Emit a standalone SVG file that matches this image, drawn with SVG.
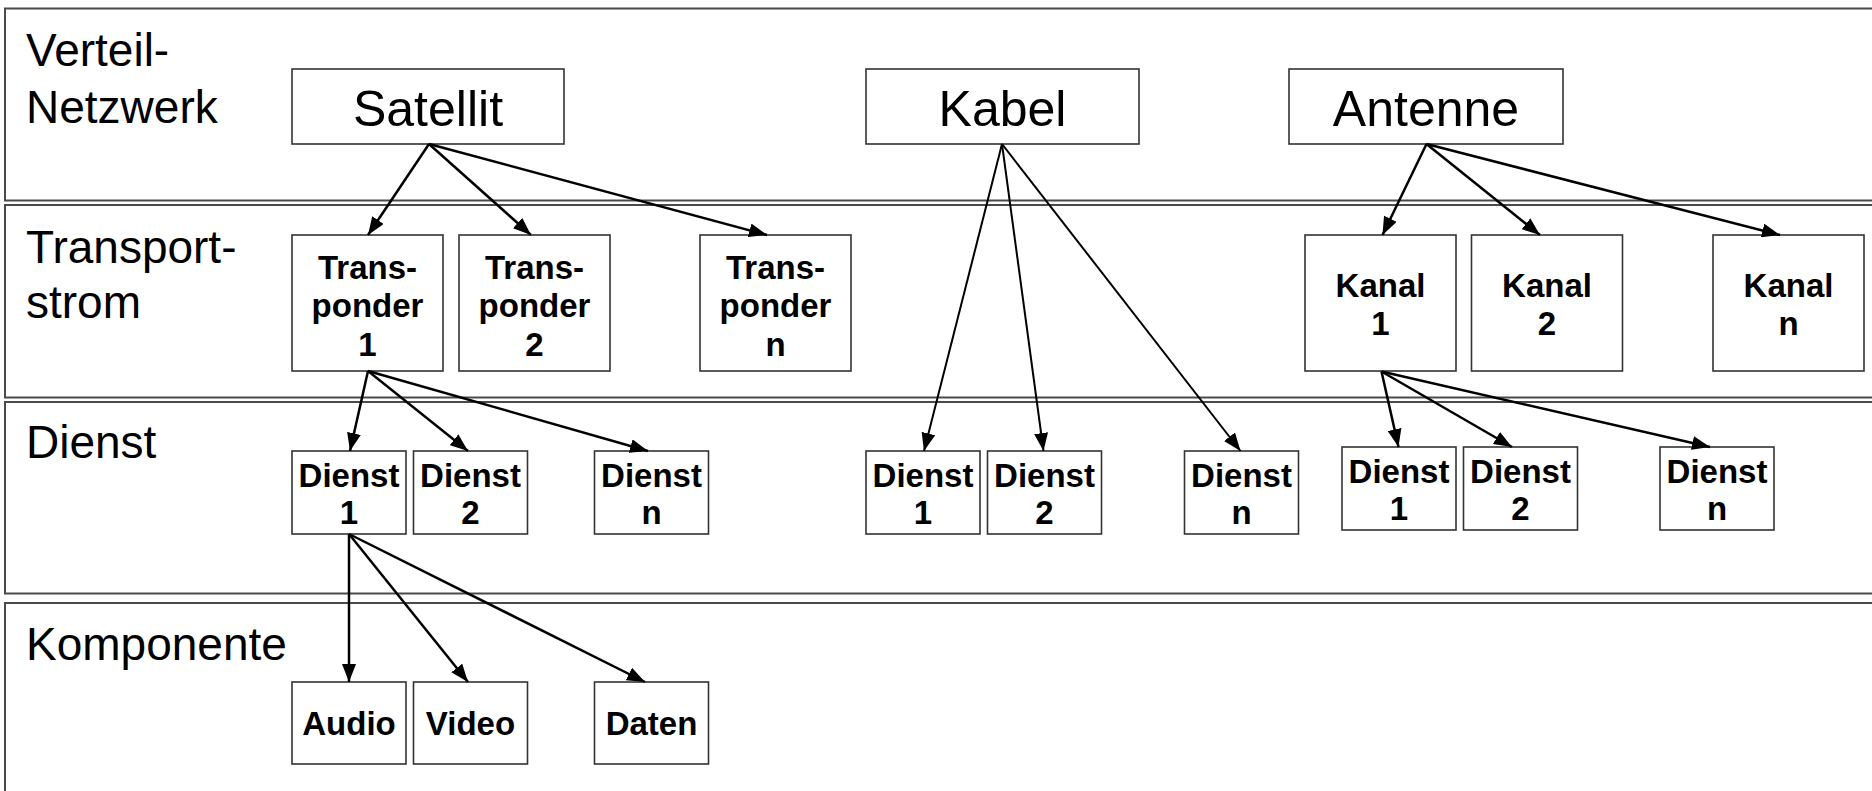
<svg xmlns="http://www.w3.org/2000/svg" width="1872" height="791" viewBox="0 0 1872 791">
  <style>
    .band { fill: #ffffff; stroke: #4a4a4a; stroke-width: 2; }
    .box { fill: #ffffff; stroke: #333333; stroke-width: 1.6; }
    .lbl { font-family: "Liberation Sans", Arial, sans-serif; font-size: 46px; fill: #000; }
    .big { font-family: "Liberation Sans", Arial, sans-serif; font-size: 50px; fill: #000; text-anchor: middle; }
    .sm { font-family: "Liberation Sans", Arial, sans-serif; font-size: 33px; font-weight: bold; fill: #000; text-anchor: middle; }
    .edge { stroke: #000; stroke-width: 2.5; fill: none; marker-end: url(#arrow); }
    .thin { stroke-width: 2; }
  </style>
  <defs>
    <marker id="arrow" markerUnits="userSpaceOnUse" markerWidth="18" markerHeight="14" refX="18" refY="7" orient="auto">
      <path d="M0,0 L18,7 L0,14 z" fill="#000"/>
    </marker>
  </defs>
  <rect width="1872" height="791" fill="#ffffff"/>

  <!-- layer bands -->
  <g id="bands">
    <rect class="band" x="5" y="8.5" width="1880" height="192"/>
    <rect class="band" x="5" y="205" width="1880" height="192.5"/>
    <rect class="band" x="5" y="402" width="1880" height="191.5"/>
    <rect class="band" x="5" y="603" width="1880" height="200"/>
    <text class="lbl" x="26" y="66">Verteil-</text>
    <text class="lbl" x="26" y="123">Netzwerk</text>
    <text class="lbl" x="26" y="263">Transport-</text>
    <text class="lbl" x="26" y="318">strom</text>
    <text class="lbl" x="26" y="458">Dienst</text>
    <text class="lbl" x="26" y="660">Komponente</text>
  </g>

  <!-- distribution networks -->
  <g id="satellit">
    <rect class="box" x="292" y="69" width="272" height="75"/>
    <text class="big" x="428" y="126">Satellit</text>
  </g>
  <g id="kabel">
    <rect class="box" x="866" y="69" width="273" height="75"/>
    <text class="big" x="1002.5" y="126">Kabel</text>
  </g>
  <g id="antenne">
    <rect class="box" x="1289" y="69" width="274" height="75"/>
    <text class="big" x="1426" y="126">Antenne</text>
  </g>

  <!-- transport streams -->
  <g id="transponder-1">
    <rect class="box" x="292" y="235" width="151" height="136"/>
    <text class="sm" x="367.5" y="278.5">Trans-</text>
    <text class="sm" x="367.5" y="317">ponder</text>
    <text class="sm" x="367.5" y="355.5">1</text>
  </g>
  <g id="transponder-2">
    <rect class="box" x="459" y="235" width="151" height="136"/>
    <text class="sm" x="534.5" y="278.5">Trans-</text>
    <text class="sm" x="534.5" y="317">ponder</text>
    <text class="sm" x="534.5" y="355.5">2</text>
  </g>
  <g id="transponder-n">
    <rect class="box" x="700" y="235" width="151" height="136"/>
    <text class="sm" x="775.5" y="278.5">Trans-</text>
    <text class="sm" x="775.5" y="317">ponder</text>
    <text class="sm" x="775.5" y="355.5">n</text>
  </g>
  <g id="kanal-1">
    <rect class="box" x="1305" y="235" width="151" height="136"/>
    <text class="sm" x="1380.5" y="297">Kanal</text>
    <text class="sm" x="1380.5" y="335">1</text>
  </g>
  <g id="kanal-2">
    <rect class="box" x="1471.5" y="235" width="151" height="136"/>
    <text class="sm" x="1547" y="297">Kanal</text>
    <text class="sm" x="1547" y="335">2</text>
  </g>
  <g id="kanal-n">
    <rect class="box" x="1713" y="235" width="151" height="136"/>
    <text class="sm" x="1788.5" y="297">Kanal</text>
    <text class="sm" x="1788.5" y="335">n</text>
  </g>

  <!-- services -->
  <g id="sat-dienst-1">
    <rect class="box" x="292" y="451" width="114" height="83"/>
    <text class="sm" x="349" y="486.5">Dienst</text>
    <text class="sm" x="349" y="524">1</text>
  </g>
  <g id="sat-dienst-2">
    <rect class="box" x="413.5" y="451" width="114" height="83"/>
    <text class="sm" x="470.5" y="486.5">Dienst</text>
    <text class="sm" x="470.5" y="524">2</text>
  </g>
  <g id="sat-dienst-n">
    <rect class="box" x="594.5" y="451" width="114" height="83"/>
    <text class="sm" x="651.5" y="486.5">Dienst</text>
    <text class="sm" x="651.5" y="524">n</text>
  </g>
  <g id="kabel-dienst-1">
    <rect class="box" x="866" y="451" width="114" height="83"/>
    <text class="sm" x="923" y="486.5">Dienst</text>
    <text class="sm" x="923" y="524">1</text>
  </g>
  <g id="kabel-dienst-2">
    <rect class="box" x="987.5" y="451" width="114" height="83"/>
    <text class="sm" x="1044.5" y="486.5">Dienst</text>
    <text class="sm" x="1044.5" y="524">2</text>
  </g>
  <g id="kabel-dienst-n">
    <rect class="box" x="1184.5" y="451" width="114" height="83"/>
    <text class="sm" x="1241.5" y="486.5">Dienst</text>
    <text class="sm" x="1241.5" y="524">n</text>
  </g>
  <g id="kanal-dienst-1">
    <rect class="box" x="1342" y="447" width="114" height="83"/>
    <text class="sm" x="1399" y="482.5">Dienst</text>
    <text class="sm" x="1399" y="520">1</text>
  </g>
  <g id="kanal-dienst-2">
    <rect class="box" x="1463.5" y="447" width="114" height="83"/>
    <text class="sm" x="1520.5" y="482.5">Dienst</text>
    <text class="sm" x="1520.5" y="520">2</text>
  </g>
  <g id="kanal-dienst-n">
    <rect class="box" x="1660" y="447" width="114" height="83"/>
    <text class="sm" x="1717" y="482.5">Dienst</text>
    <text class="sm" x="1717" y="520">n</text>
  </g>

  <!-- components -->
  <g id="audio">
    <rect class="box" x="292" y="682" width="114" height="82"/>
    <text class="sm" x="349" y="735">Audio</text>
  </g>
  <g id="video">
    <rect class="box" x="413.5" y="682" width="114" height="82"/>
    <text class="sm" x="470.5" y="735">Video</text>
  </g>
  <g id="daten">
    <rect class="box" x="594.5" y="682" width="114" height="82"/>
    <text class="sm" x="651.5" y="735">Daten</text>
  </g>

  <!-- connectors -->
  <g id="connectors">
    <line class="edge" x1="429" y1="144" x2="368" y2="235"/>
    <line class="edge" x1="429" y1="144" x2="531" y2="235"/>
    <line class="edge" x1="429" y1="144" x2="767" y2="235"/>

    <line class="edge" x1="368" y1="371" x2="350" y2="451"/>
    <line class="edge" x1="368" y1="371" x2="468" y2="451"/>
    <line class="edge" x1="368" y1="371" x2="648" y2="451"/>

    <line class="edge" x1="349" y1="534" x2="349" y2="682"/>
    <line class="edge" x1="349" y1="534" x2="468" y2="682"/>
    <line class="edge" x1="349" y1="534" x2="645" y2="682"/>

    <line class="edge thin" x1="1002" y1="144" x2="924" y2="451"/>
    <line class="edge thin" x1="1002" y1="144" x2="1043.5" y2="451"/>
    <line class="edge thin" x1="1002" y1="144" x2="1240.5" y2="451"/>

    <line class="edge" x1="1426.5" y1="144" x2="1382.5" y2="235"/>
    <line class="edge" x1="1426.5" y1="144" x2="1540" y2="235"/>
    <line class="edge" x1="1426.5" y1="144" x2="1780" y2="235"/>

    <line class="edge" x1="1381.5" y1="371.5" x2="1398.5" y2="447"/>
    <line class="edge" x1="1381.5" y1="371.5" x2="1512" y2="447"/>
    <line class="edge" x1="1381.5" y1="371.5" x2="1710" y2="447"/>
  </g>
</svg>
